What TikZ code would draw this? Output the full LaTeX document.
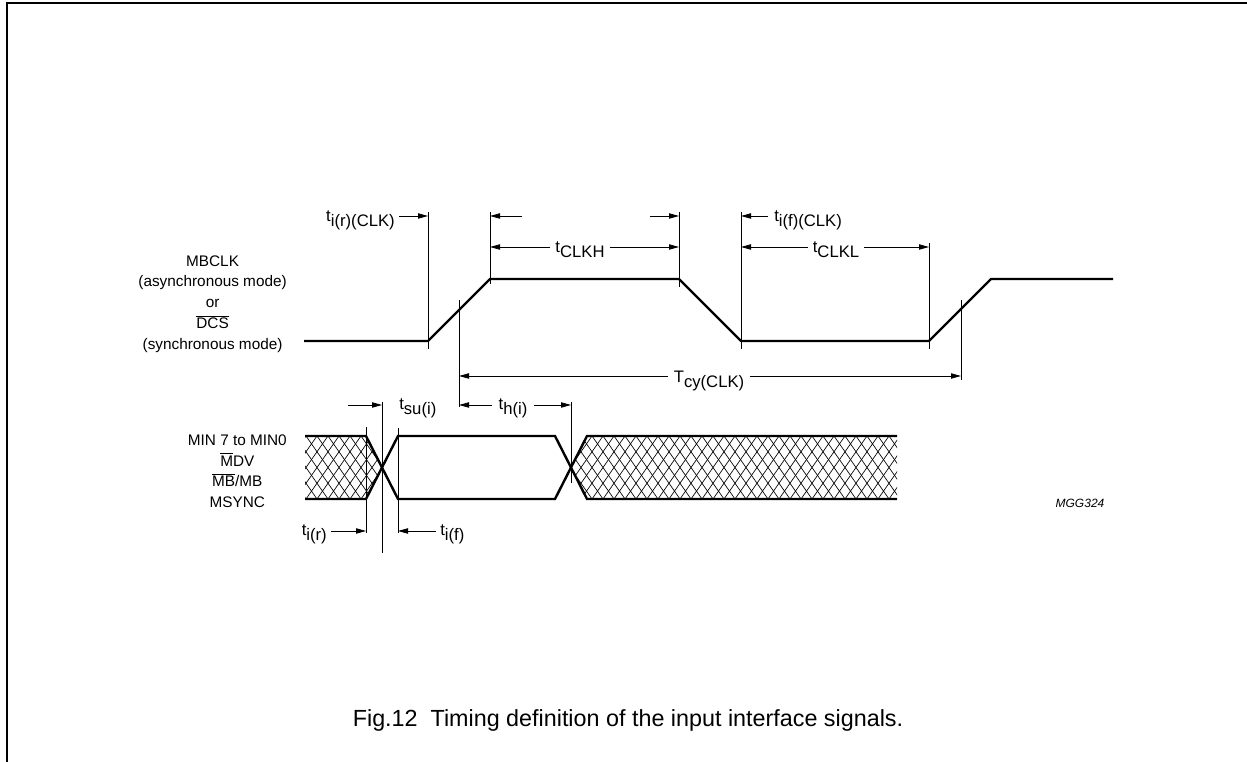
\documentclass[tikz,border=0pt]{standalone}
\usepackage{fontspec}
\setmainfont{Liberation Sans}
\usetikzlibrary{arrows.meta}
\newcommand\tsb[2]{#1\raisebox{-0.5ex}{\fontsize{12.5}{14}\selectfont #2}}
\newcommand\ovl[1]{$\overline{\hbox{#1}}$}
\begin{document}
\begin{tikzpicture}[x=0.75pt,y=-0.75pt,
  sig/.style={line width=1.8pt, line join=miter},
  vline/.style={line width=0.6pt},
  dim/.style={line width=0.6pt, -{Triangle[length=7.5pt,width=4pt]}},
  lbl/.style={font=\fontsize{11.5}{15.6}\selectfont, inner sep=0pt, align=center},
  tlbl/.style={font=\fontsize{12.5}{15}\selectfont, inner sep=0pt},
  hatchln/.style={line width=0.5pt}]
\useasboundingbox (0,0) rectangle (1247,762);
% frame
\draw[line width=1.5pt] (6.5,762) -- (6.5,3.5) -- (1247,3.5);

% ---- clock waveform
\coordinate (c0) at (304,341);
\coordinate (c1) at (428,341);
\coordinate (c2) at (490,279);
\coordinate (c3) at (679,279);
\coordinate (c4) at (741,341);
\coordinate (c5) at (929,341);
\coordinate (c6) at (991,279);
\coordinate (c7) at (1113,279);
\draw[sig] (c0)--(c1)--(c2)--(c3)--(c4)--(c5)--(c6)--(c7);

% verticals (clock)
\coordinate (v1t) at (428,212); \coordinate (v1b) at (428,349);
\coordinate (v2t) at (490,212); \coordinate (v2b) at (490,284);
\coordinate (vmt) at (459,300); \coordinate (vmb) at (459,407);
\coordinate (v3t) at (679,212); \coordinate (v3b) at (679,287);
\coordinate (v4t) at (741,212); \coordinate (v4b) at (741,349);
\coordinate (v5t) at (929,243); \coordinate (v5b) at (929,349);
\coordinate (v6t) at (961,300); \coordinate (v6b) at (961,380);
\foreach \v in {v1,v2,vm,v3,v4,v5,v6} \draw[vline] (\v t)--(\v b);

% ---- data waveform
\def\yt{436} \def\yb{499}
\begin{scope}
\clip (305,\yt)--(366,\yt)--(382,467.5)--(366,\yb)--(305,\yb)--cycle
      (571,467.5)--(587,\yt)--(897,\yt)--(897,\yb)--(587,\yb)--cycle;
\foreach \x in {251,262,...,900} {
  \draw[hatchln] (\x,\yt)--(\x+44,\yb);
  \draw[hatchln] (\x+44,\yt)--(\x,\yb);
}
\end{scope}
\draw[sig] (305,\yt)--(366,\yt)--(398,\yb)--(555,\yb)--(587,\yt)--(897,\yt);
\draw[sig] (305,\yb)--(366,\yb)--(398,\yt)--(555,\yt)--(587,\yb)--(897,\yb);

% verticals (data)
\coordinate (d1t) at (366,427); \coordinate (d1b) at (366,533);
\coordinate (d2t) at (382,402); \coordinate (d2b) at (382,553);
\coordinate (d3t) at (398,428); \coordinate (d3b) at (398,533);
\coordinate (d4t) at (571,402); \coordinate (d4b) at (571,483);
\foreach \v in {d1,d2,d3,d4} \draw[vline] (\v t)--(\v b);

% ---- dimension arrows and labels
\node[tlbl, anchor=base east] (tir) at (395,222) {\tsb{t}{i(r)(CLK)}};
\coordinate (a1) at (399,216); \coordinate (a1e) at (428,216);
\draw[dim] (a1)--(a1e);

\coordinate (a2) at (522,216); \coordinate (a2e) at (490,216);
\draw[dim] (a2)--(a2e);
\coordinate (a3) at (650,216); \coordinate (a3e) at (679,216);
\draw[dim] (a3)--(a3e);

\node[tlbl, anchor=base west] (tif) at (774,222) {\tsb{t}{i(f)(CLK)}};
\coordinate (a4) at (768,216); \coordinate (a4e) at (741,216);
\draw[dim] (a4)--(a4e);

\node[tlbl, anchor=base] (tclkh) at (580,253) {\tsb{t}{CLKH}};
\coordinate (h1e) at (490,247); \coordinate (h2e) at (679,247);
\draw[dim] (tclkh.west |- h1e) ++(-5,0) coordinate (h1) -- (h1e);
\draw[dim] (tclkh.east |- h2e) ++(5,0) coordinate (h2) -- (h2e);

\node[tlbl, anchor=base] (tclkl) at (836,253) {\tsb{t}{CLKL}};
\coordinate (l1e) at (741,247); \coordinate (l2e) at (929,247);
\draw[dim] (tclkl.west |- l1e) ++(-5,0) -- (l1e);
\draw[dim] (tclkl.east |- l2e) ++(5,0) -- (l2e);

\node[tlbl, anchor=base] (tcy) at (709,383) {\tsb{T}{cy(CLK)}};
\coordinate (y1e) at (459,376); \coordinate (y2e) at (961,376);
\draw[dim] (tcy.west |- y1e) ++(-6,0) -- (y1e);
\draw[dim] (tcy.east |- y2e) ++(6,0) -- (y2e);

\node[tlbl, anchor=base west] (tsu) at (399,410) {\tsb{t}{su(i)}};
\coordinate (s1) at (348,405); \coordinate (s1e) at (382,405);
\draw[dim] (s1)--(s1e);

\node[tlbl, anchor=base] (th) at (513,410) {\tsb{t}{h(i)}};
\coordinate (th1e) at (459,405); \coordinate (th2e) at (571,405);
\draw[dim] (th.west |- th1e) ++(-6,0) -- (th1e);
\draw[dim] (th.east |- th2e) ++(6,0) -- (th2e);

\node[tlbl, anchor=base east] (tirr) at (327,536) {\tsb{t}{i(r)}};
\coordinate (r1) at (331,531); \coordinate (r1e) at (366,531);
\draw[dim] (r1)--(r1e);

\node[tlbl, anchor=base west] (tiff) at (440,536) {\tsb{t}{i(f)}};
\coordinate (f1) at (436,531); \coordinate (f1e) at (398,531);
\draw[dim] (f1)--(f1e);

% ---- signal names
\node[lbl, anchor=east] (clkname) at (287,304)
  {MBCLK\\(asynchronous mode)\\or\\\ovl{DCS}\\(synchronous mode)};
\node[lbl, anchor=east, font=\fontsize{11.5}{15.4}\selectfont] (dname) at (287,471)
  {MIN 7 to MIN0\\\ovl{M}DV\\\ovl{MB}/MB\\MSYNC};

\node[inner sep=0pt, font=\fontsize{9}{11}\selectfont\itshape] (code) at (1080,503) {MGG324};

\node[inner sep=0pt, font=\fontsize{17.5}{20}\selectfont] (cap) at (628,720)
  {Fig.12\ \ Timing definition of the input interface signals.};
\end{tikzpicture}
\end{document}
